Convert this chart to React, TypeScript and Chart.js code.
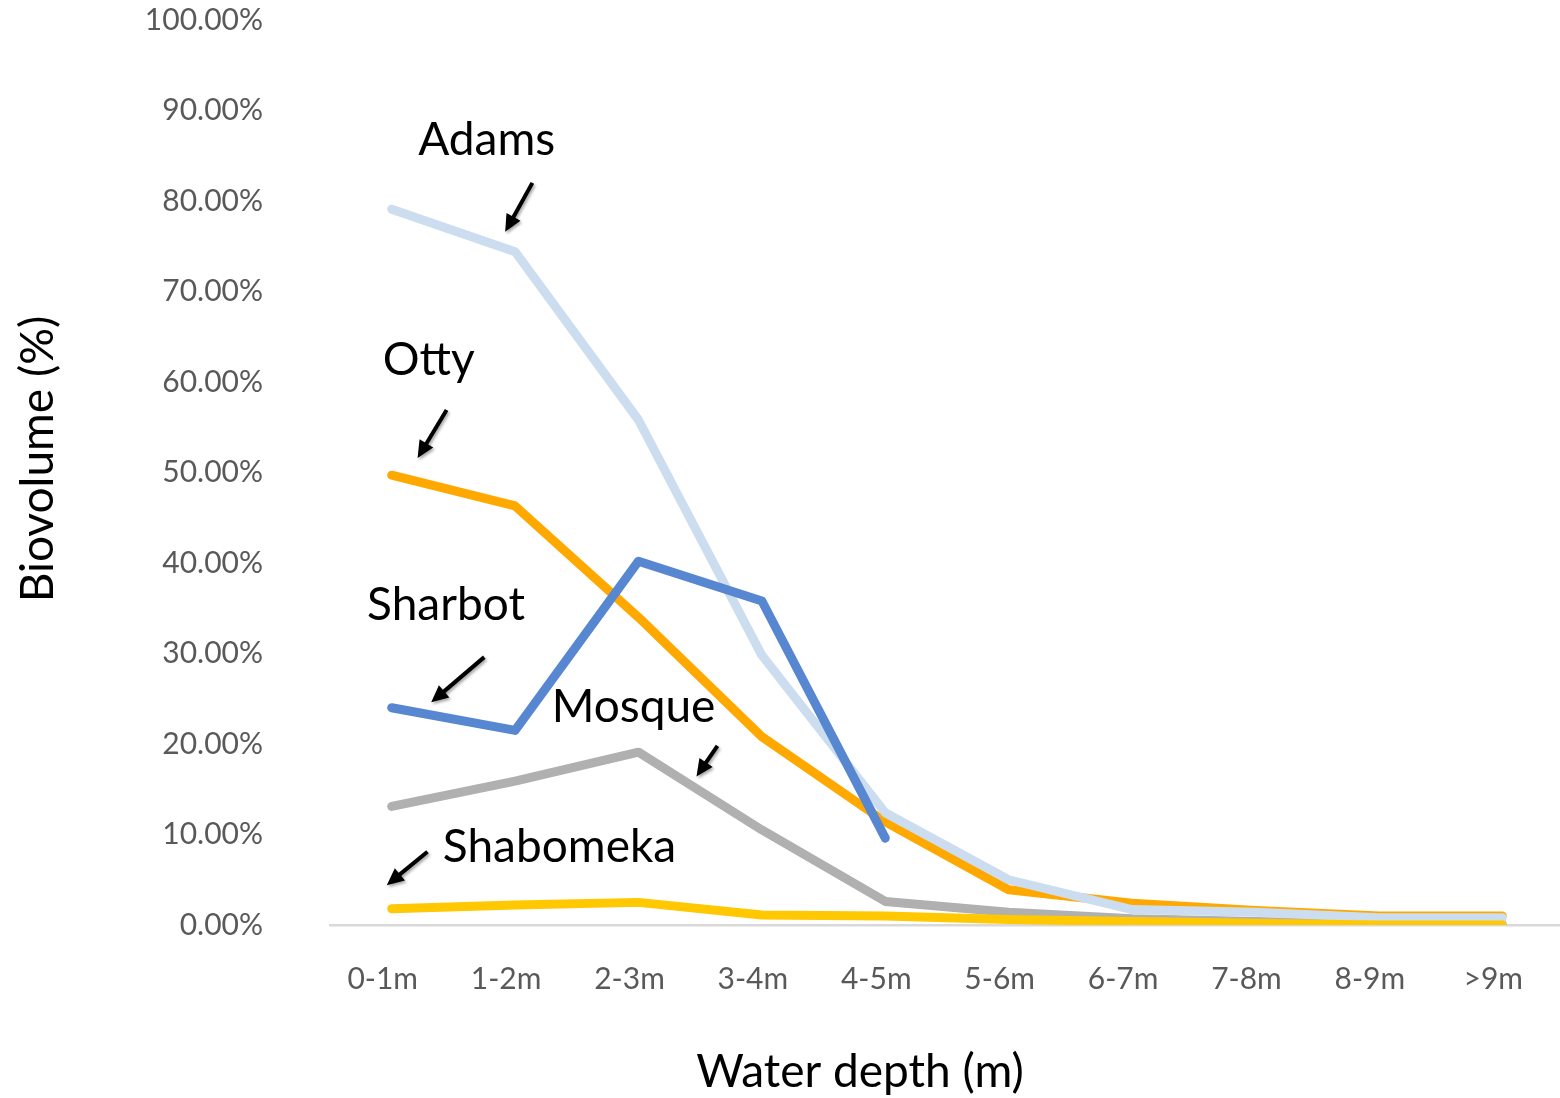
import React, { useEffect, useRef } from "react";
import { Chart, registerables } from "chart.js";

Chart.register(...registerables);

// Depth bins along the x axis
const depthBins = ["0-1m", "1-2m", "2-3m", "3-4m", "4-5m", "5-6m", "6-7m", "7-8m", "8-9m", ">9m"];

// Biovolume (%) per depth bin for each lake
const adams = [79.1, 74.4, 55.8, 29.8, 12.4, 5.0, 1.7, 1.4, 0.8, 0.8];
const otty = [49.7, 46.3, 34.0, 20.8, 11.4, 3.9, 2.4, 1.6, 1.0, 1.0];
const sharbot = [24.0, 21.5, 40.2, 35.8, 9.6, null, null, null, null, null];
const mosque = [13.1, 15.9, 19.1, 10.5, 2.6, 1.4, 0.7, 0.4, 0.1, 0.1];
const shabomeka = [1.8, 2.2, 2.5, 1.1, 1.0, 0.6, 0.4, 0.2, 0.0, 0.0];

// y-axis ticks
const yTicks = [0, 10, 20, 30, 40, 50, 60, 70, 80, 90, 100];

// Lake name callouts: label anchor and arrow tail/head in data units (bin index, %)
const callouts = [
  { name: "Adams", label: [0.77, 85.1], tail: [1.14, 82.0], head: [0.92, 76.6] },
  { name: "Otty", label: [0.3, 60.8], tail: [0.445, 56.9], head: [0.21, 51.6] },
  { name: "Sharbot", label: [0.44, 33.7], tail: [0.75, 29.6], head: [0.32, 24.6] },
  { name: "Mosque", label: [1.96, 22.4], tail: [2.64, 19.8], head: [2.47, 16.4] },
  { name: "Shabomeka", label: [1.36, 7.0], tail: [0.29, 8.1], head: [-0.04, 4.4] },
];

const FONT = "Lato, 'Open Sans', sans-serif";
const BIG = 46;

const calloutPlugin = {
  id: "callouts",
  afterDatasetsDraw(chart: any) {
    const { ctx, scales } = chart;
    const xs = scales.x;
    const ys = scales.y;
    const px = (p: number[]) => [xs.getPixelForValue(p[0]), ys.getPixelForValue(p[1])];
    ctx.save();
    for (const c of callouts) {
      const [lx, ly] = px(c.label);
      ctx.fillStyle = "#000";
      ctx.font = `${BIG}px ${FONT}`;
      ctx.textAlign = "center";
      ctx.textBaseline = "alphabetic";
      ctx.fillText(c.name, lx, ly);

      const [tx, ty] = px(c.tail);
      const [hx, hy] = px(c.head);
      const ang = Math.atan2(hy - ty, hx - tx);
      const headLen = 17;
      const headHalf = 8;
      const bx = hx - Math.cos(ang) * headLen;
      const by = hy - Math.sin(ang) * headLen;
      ctx.save();
      ctx.shadowColor = "rgba(0,0,0,0.35)";
      ctx.shadowBlur = 3;
      ctx.shadowOffsetX = 1.5;
      ctx.shadowOffsetY = 2;
      ctx.strokeStyle = "#000";
      ctx.lineWidth = 4;
      ctx.lineCap = "butt";
      ctx.beginPath();
      ctx.moveTo(tx, ty);
      ctx.lineTo(bx + Math.cos(ang) * 2, by + Math.sin(ang) * 2);
      ctx.stroke();
      ctx.fillStyle = "#000";
      ctx.beginPath();
      ctx.moveTo(hx, hy);
      ctx.lineTo(bx + Math.sin(ang) * headHalf, by - Math.cos(ang) * headHalf);
      ctx.lineTo(bx - Math.sin(ang) * headHalf, by + Math.cos(ang) * headHalf);
      ctx.closePath();
      ctx.fill();
      ctx.restore();
    }
    ctx.restore();
  },
  afterDraw(chart: any) {
    const { ctx } = chart;
    ctx.save();
    ctx.fillStyle = "#000";
    ctx.font = `${BIG}px ${FONT}`;
    ctx.textAlign = "center";
    ctx.textBaseline = "alphabetic";
    ctx.fillText("Water depth (m)", 860, 1087);
    ctx.translate(38, 459);
    ctx.rotate(-Math.PI / 2);
    ctx.textBaseline = "middle";
    ctx.fillText("Biovolume (%)", 0, 0);
    ctx.restore();
  },
};

export default function App() {
  const canvasRef = useRef<HTMLCanvasElement | null>(null);

  useEffect(() => {
    const canvas = canvasRef.current;
    if (!canvas) return;
    const line = (label: string, data: (number | null)[], color: string) => ({
      label,
      data,
      borderColor: color,
      backgroundColor: color,
      borderWidth: 9,
      borderCapStyle: "round" as const,
      borderJoinStyle: "round" as const,
      pointRadius: 0,
      pointHoverRadius: 0,
      tension: 0,
      spanGaps: false,
      fill: false,
    });
    const chart = new Chart(canvas, {
      type: "line",
      data: {
        labels: depthBins,
        datasets: [
          line("Shabomeka", shabomeka, "#FFC800"),
          line("Sharbot", sharbot, "#5787D0"),
          line("Adams", adams, "#CCDDF0"),
          line("Otty", otty, "#FFA800"),
          line("Mosque", mosque, "#B0B0B0"),
        ],
      },
      options: {
        responsive: false,
        animation: false,
        devicePixelRatio: 1,
        layout: { padding: { top: 20, right: 0, left: 0, bottom: 0 } },
        plugins: { legend: { display: false }, tooltip: { enabled: false }, title: { display: false } },
        scales: {
          x: {
            type: "category",
            offset: true,
            grid: { display: false, drawTicks: false },
            border: { display: true, color: "#D9D9D9", width: 2.5 },
            ticks: {
              color: "#595959",
              font: { family: FONT, size: 30 },
              padding: 36,
              labelOffset: -9,
              maxRotation: 0,
              autoSkip: false,
            },
            afterFit: (scale: any) => {
              scale.height = 173;
            },
          },
          y: {
            min: 0,
            max: 100,
            afterBuildTicks: (scale: any) => {
              scale.ticks = yTicks.map((v) => ({ value: v }));
            },
            grid: { display: false, drawTicks: false },
            border: { display: false },
            ticks: {
              color: "#595959",
              font: { family: FONT, size: 30 },
              padding: 67,
              callback: (v: any) => `${Number(v).toFixed(2)}%`,
            },
            afterFit: (scale: any) => {
              scale.width = 330;
              scale.paddingTop = 0;
              scale.paddingBottom = 0;
            },
          },
        },
      },
      plugins: [calloutPlugin],
    });
    return () => chart.destroy();
  }, []);

  return (
    <div style={{ position: "fixed", left: 0, top: 0, width: 1560, height: 1098, overflow: "hidden", background: "#fff" }}>
      <canvas ref={canvasRef} width={1568} height={1098} style={{ display: "block" }} />
    </div>
  );
}
